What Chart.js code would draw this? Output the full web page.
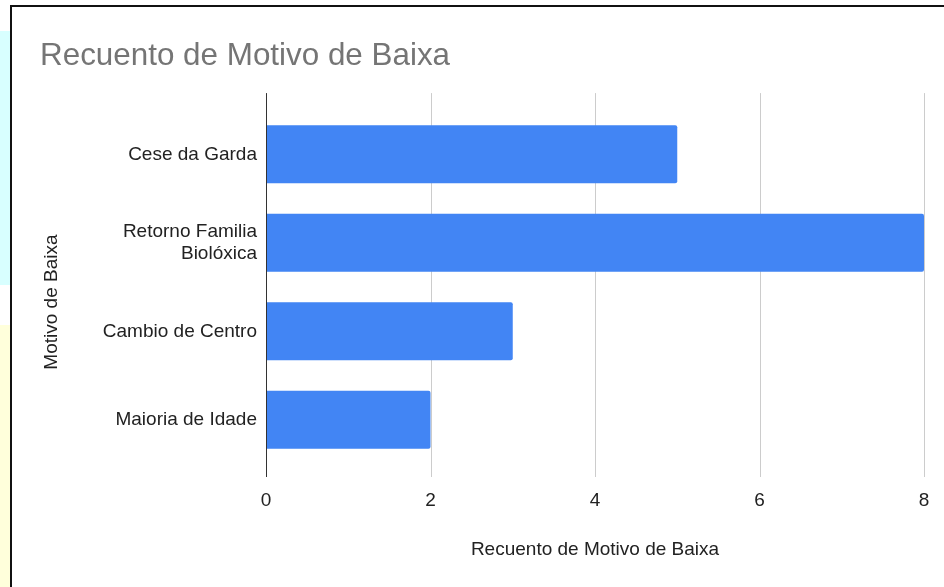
<!DOCTYPE html>
<html>
<head>
<meta charset="utf-8">
<script src="https://cdn.jsdelivr.net/npm/chart.js@4.4.1/dist/chart.umd.min.js"></script>
<style>
  html, body { margin: 0; padding: 0; width: 944px; height: 587px; overflow: hidden; background: #ffffff; }
  .strip-blue { position: absolute; left: 0; top: 31px; width: 10px; height: 254px; background: #d8ffff; }
  .strip-yellow { position: absolute; left: 0; top: 325px; width: 10px; height: 262px; background: #ffffdb; }
  .frame { position: absolute; left: 10px; top: 5px; width: 940px; height: 600px; border: 2px solid #111; background: #ffffff; }
  #chart { position: absolute; left: 0; top: 0; }
</style>
</head>
<body>
<div class="strip-blue"></div>
<div class="strip-yellow"></div>
<div class="frame">
  <canvas id="chart" width="932" height="580"></canvas>
</div>
<script>
// --- chart data ---
const categories = ['Cese da Garda', ['Retorno Familia', 'Biolóxica'], 'Cambio de Centro', 'Maioria de Idade'];
const counts = [5, 8, 3, 2];
const xTicks = [0, 2, 4, 6, 8];
const chartTitle = 'Recuento de Motivo de Baixa';
const xTitle = 'Recuento de Motivo de Baixa';
const yTitle = 'Motivo de Baixa';

const FONT = "'Liberation Sans', Arial, sans-serif";

// gridlines drawn a bit past the plot area, like the original
const gridPlugin = {
    id: 'longGrid',
    beforeDatasetsDraw(chart) {
        const { ctx, chartArea, scales } = chart;
        ctx.save();
        ctx.strokeStyle = '#cccccc';
        ctx.lineWidth = 1;
        xTicks.forEach(v => {
            if (v === 0) return;
            const x = Math.round(scales.x.getPixelForValue(v)) + 0.5;
            ctx.beginPath();
            ctx.moveTo(x, chartArea.top - 17);
            ctx.lineTo(x, chartArea.bottom + 13);
            ctx.stroke();
        });
        ctx.restore();
    },
    afterDatasetsDraw(chart) {
        const { ctx, chartArea, scales } = chart;
        ctx.save();
        ctx.strokeStyle = '#333333';
        ctx.lineWidth = 1;
        const x = Math.round(scales.x.getPixelForValue(0)) + 0.5;
        ctx.beginPath();
        ctx.moveTo(x, chartArea.top - 17);
        ctx.lineTo(x, chartArea.bottom + 13);
        ctx.stroke();

        // y axis title
        ctx.fillStyle = '#222222';
        ctx.font = '19px ' + FONT;
        ctx.textAlign = 'center';
        ctx.textBaseline = 'middle';
        ctx.translate(40, (chartArea.top + chartArea.bottom) / 2 + 15);
        ctx.rotate(-Math.PI / 2);
        ctx.fillText(yTitle, 0, 0);
        ctx.restore();
    }
};

const ctx = document.getElementById('chart').getContext('2d');
new Chart(ctx, {
    type: 'bar',
    data: {
        labels: categories,
        datasets: [{
            label: xTitle,
            data: counts,
            backgroundColor: '#4285f4',
            borderWidth: 0,
            borderRadius: { topRight: 2, bottomRight: 2 },
            borderSkipped: 'start',
            barPercentage: 0.655,
            categoryPercentage: 1
        }]
    },
    options: {
        indexAxis: 'y',
        responsive: false,
        animation: false,
        devicePixelRatio: 1,
        layout: { padding: { left: 28, right: 20, top: 0, bottom: 0 } },
        scales: {
            x: {
                min: 0,
                max: 8,
                afterBuildTicks(scale) {
                    scale.ticks = xTicks.map(v => ({ value: v }));
                },
                afterFit(scale) {
                    scale.height = 123;
                    // the tick padding would otherwise eat into the plot width
                    scale.paddingLeft = 0;
                    scale.paddingRight = 0;
                },
                grid: { display: false, drawTicks: false },
                border: { display: false },
                ticks: {
                    padding: 25,
                    color: '#222222',
                    font: { family: FONT, size: 19 }
                },
                title: {
                    display: true,
                    text: xTitle,
                    color: '#222222',
                    font: { family: FONT, size: 19 },
                    padding: { top: 0, bottom: 25.6 }
                }
            },
            y: {
                afterFit(scale) { scale.width = 226; },
                grid: { display: false, drawTicks: false },
                border: { display: false },
                ticks: {
                    padding: 9,
                    color: '#222222',
                    font: { family: FONT, size: 19, lineHeight: 1.15 }
                }
            }
        },
        plugins: {
            legend: { display: false },
            tooltip: { enabled: false },
            title: {
                display: true,
                text: chartTitle,
                align: 'start',
                color: '#757575',
                font: { family: FONT, size: 31.4, weight: 'normal' },
                padding: { top: 30.2, bottom: 35.2 }
            }
        }
    },
    plugins: [gridPlugin]
});
</script>
</body>
</html>
